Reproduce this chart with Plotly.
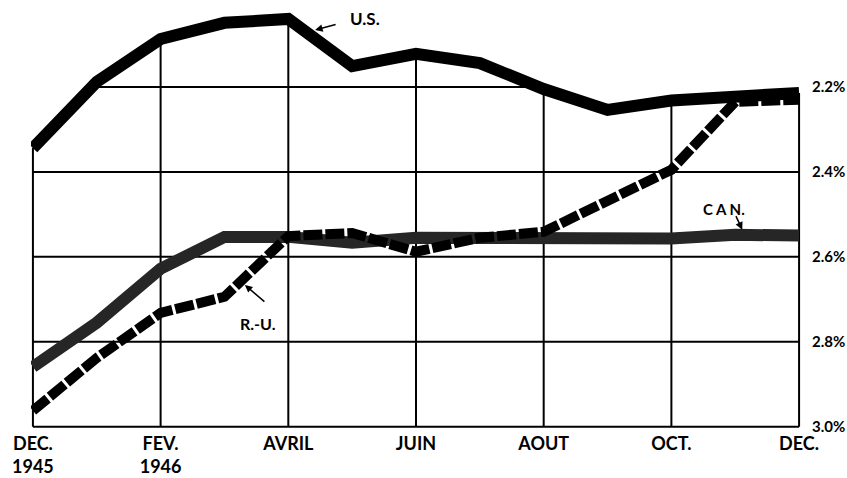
import plotly.graph_objects as go

months = list(range(13))  # DEC 1945 .. DEC 1946
tick_vals = [0, 2, 4, 6, 8, 10, 12]
tick_text = ["DEC.<br>1945", "FEV.<br>1946", "AVRIL", "JUIN", "AOUT", "OCT.", "DEC."]
y_vals = [2.2, 2.4, 2.6, 2.8, 3.0]
y_text = ["2.2%", "2.4%", "2.6%", "2.8%", "3.0%"]

us = [2.344, 2.188, 2.087, 2.049, 2.040, 2.151, 2.122, 2.144, 2.205, 2.254, 2.232, 2.223, 2.214]
can = [2.859, 2.755, 2.628, 2.553, 2.553, 2.567, 2.555, 2.557, 2.557, 2.557, 2.557, 2.548, 2.550]
ru = [2.962, 2.838, 2.732, 2.694, 2.551, 2.544, 2.588, 2.555, 2.541, 2.466, 2.395, 2.235, 2.230]

Y_TOP = 2.0
Y_BOT = 3.01
X_MIN, X_MAX = -0.03, 12.03

FONT = "Lato"


def us_at(x):
    i = min(int(x), len(us) - 2)
    t = x - i
    return us[i] + (us[i + 1] - us[i]) * t


def below_us_segments(level):
    # x-intervals where the grid level lies below the U.S. curve on the chart
    segs, start = [], None
    for i in range(len(us) - 1):
        a, b = us[i], us[i + 1]
        if start is None and a <= level:
            start = float(i)
        if (a - level) * (b - level) < 0:
            xc = i + (a - level) / (a - b)
            if start is None:
                start = xc
            else:
                segs.append((start, xc))
                start = None
    if start is not None:
        segs.append((start, float(months[-1])))
    return segs


# grid, kept below the U.S. curve (as in the original print)
gx, gy = [], []
for v in tick_vals:
    gx += [v, v, None]
    gy += [y_vals[-1], us_at(v), None]
for lv in y_vals:
    for x0, x1 in below_us_segments(lv):
        gx += [x0, x1, None]
        gy += [lv, lv, None]

fig = go.Figure()
fig.add_trace(go.Scatter(x=gx, y=gy, mode="lines", line=dict(color="black", width=2),
                         hoverinfo="skip", showlegend=False, connectgaps=False))
# CAN.
fig.add_trace(go.Scatter(x=months, y=can, mode="lines", name="CAN.",
                         line=dict(color="#262626", width=12), showlegend=False))
# R.-U.
fig.add_trace(go.Scatter(x=months, y=ru, mode="lines", name="R.-U.",
                         line=dict(color="black", width=10, dash="19px,3px"), showlegend=False))
# U.S.
fig.add_trace(go.Scatter(x=months, y=us, mode="lines", name="U.S.",
                         line=dict(color="black", width=12), showlegend=False))

fig.update_xaxes(range=[X_MIN, X_MAX], tickvals=tick_vals, ticktext=tick_text,
                 showgrid=False, zeroline=False,
                 showline=False, ticks="", ticklabelstandoff=0, automargin=False,
                 tickfont=dict(family=FONT, size=18, color="black", weight="bold"))
fig.update_yaxes(range=[Y_BOT, Y_TOP], tickvals=y_vals, ticktext=y_text, side="right",
                 showgrid=False, zeroline=False,
                 showline=False, ticks="", ticklabelstandoff=10, automargin=False,
                 tickfont=dict(family=FONT, size=15, color="black", weight="bold"))

afont = dict(family=FONT, size=17, color="black", weight="bold")
annots = [
    dict(x=5.2, y=2.038, text="U.S.", showarrow=False, font=afont),
    dict(x=4.42, y=2.066, text="", showarrow=True, ax=22, ay=-6, arrowhead=2,
         arrowsize=1, arrowwidth=1.5, arrowcolor="black", standoff=0, startstandoff=0),
    dict(x=10.83, y=2.487, text="C A N.", showarrow=False, font=dict(family=FONT, size=15, color="black", weight="bold")),
    dict(x=11.11, y=2.536, text="", showarrow=True, ax=-7, ay=-15, arrowhead=2,
         arrowsize=1, arrowwidth=1.5, arrowcolor="black", standoff=0),
    dict(x=3.525, y=2.758, text="R.-U.", showarrow=False, font=dict(family=FONT, size=16, color="black", weight="bold")),
    dict(x=3.32, y=2.666, text="", showarrow=True, ax=21, ay=18, arrowhead=2,
         arrowsize=1, arrowwidth=1.5, arrowcolor="black", standoff=0),
]

fig.update_layout(width=847, height=478, margin=dict(l=31, r=46, t=2, b=47, autoexpand=False),
                  paper_bgcolor="white", plot_bgcolor="white", annotations=annots,
                  showlegend=False)

fig.write_html("out.html", config={"displayModeBar": False},
               post_script="document.body.style.margin='0px';document.body.style.padding='0px';")
